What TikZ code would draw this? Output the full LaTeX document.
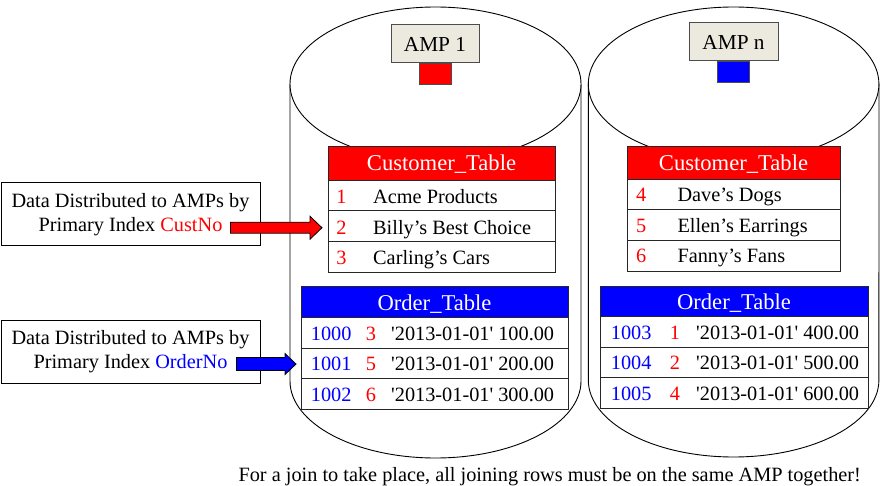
\documentclass[tikz,border=0pt]{standalone}
\usepackage{fontspec}
\setmainfont{Liberation Serif}
\usetikzlibrary{calc}
\definecolor{ampfill}{HTML}{ECE9DF}
\begin{document}
\begin{tikzpicture}[x=1pt,y=-1pt,
  cyl/.style={draw=black, line width=0.9pt},
  cell/.style={draw=black!85, line width=1pt, anchor=north west, inner sep=0pt, fill=white},
  redhead/.style={cell, fill=red},
  bluehead/.style={cell, fill=blue},
  hdtext/.style={anchor=base, inner sep=0pt, text=white, font=\fontsize{22.6}{27}\selectfont},
  txt/.style={anchor=base west, inner sep=0pt, font=\fontsize{20.3}{24}\selectfont},
  num/.style={anchor=base, inner sep=0pt, font=\fontsize{20.3}{24}\selectfont},
  ampbox/.style={draw=black!70, line width=1pt, fill=ampfill, inner sep=0pt, font=\fontsize{21.3}{25}\selectfont},
  sq/.style={draw=black!70, line width=0.8pt, anchor=north, inner sep=0pt, minimum width=32, minimum height=21},
  infobox/.style={draw=black, line width=1pt, fill=white, align=center, inner sep=0pt, minimum width=259, minimum height=63, font=\fontsize{20.3}{24.4}\selectfont},
  blockarrow/.style={draw=black, line width=0.8pt, line join=miter}
]
\useasboundingbox (0,0) rectangle (880,486);

% ---- cylinders ----
\draw[cyl, fill=white] (290,84) -- (290,381) arc[start angle=180, end angle=360, x radius=145.5pt, y radius=77pt] -- (581,84);
\draw[cyl, fill=white] (435.5,84) ellipse[x radius=145.5pt, y radius=77pt];
\draw[cyl, fill=white] (588.3,84) -- (588.3,380) arc[start angle=180, end angle=360, x radius=145.3pt, y radius=77pt] -- (879,84);
\draw[cyl, fill=white] (733.6,84) ellipse[x radius=145.3pt, y radius=77pt];

% ---- AMP boxes ----
\node[ampbox, minimum width=88, minimum height=38] (amp1) at (435,44) {AMP 1};
\node[sq, fill=red] (ps1) at (amp1.south) {};
\node[ampbox, minimum width=89, minimum height=38] (ampn) at (733.5,42) {AMP n};
\node[sq, fill=blue] (psn) at (ampn.south) {};

% ---- Customer table AMP 1 ----
\node[redhead, minimum width=227, minimum height=34] (c1h) at (328,146) {};
\node[hdtext] (c1ht) at (441.5,170.5) {Customer\_Table};
\node[cell, minimum width=227, minimum height=30.5] (c1r1) at (328,180) {};
\node[cell, minimum width=227, minimum height=30.5] (c1r2) at (328,210.5) {};
\node[cell, minimum width=227, minimum height=30.5] (c1r3) at (328,241) {};
\node[num, text=red] (c1n1) at (341.5,203.8) {1};
\node[txt] (c1t1) at (373,203.8) {Acme Products};
\node[num, text=red] (c1n2) at (341.5,234.3) {2};
\node[txt] (c1t2) at (373,234.3) {Billy’s Best Choice};
\node[num, text=red] (c1n3) at (341.5,264.5) {3};
\node[txt] (c1t3) at (373,264.5) {Carling’s Cars};

% ---- Customer table AMP n ----
\node[redhead, minimum width=213, minimum height=33] (c2h) at (627,146) {};
\node[hdtext] (c2ht) at (733.5,170.6) {Customer\_Table};
\node[cell, minimum width=213, minimum height=30.5] (c2r1) at (627,179) {};
\node[cell, minimum width=213, minimum height=30.5] (c2r2) at (627,209.5) {};
\node[cell, minimum width=213, minimum height=30.5] (c2r3) at (627,240) {};
\node[num, text=red] (c2n1) at (641.3,202) {4};
\node[txt] (c2t1) at (677.3,202) {Dave’s Dogs};
\node[num, text=red] (c2n2) at (641.3,232.5) {5};
\node[txt] (c2t2) at (677.3,232.5) {Ellen’s Earrings};
\node[num, text=red] (c2n3) at (641.3,262.6) {6};
\node[txt] (c2t3) at (677.3,262.6) {Fanny’s Fans};

% ---- Order table AMP 1 ----
\node[bluehead, minimum width=267, minimum height=31] (o1h) at (301,286) {};
\node[hdtext] (o1ht) at (434.5,310) {Order\_Table};
\node[cell, minimum width=267, minimum height=30.7] (o1r1) at (301,317) {};
\node[cell, minimum width=267, minimum height=30.7] (o1r2) at (301,347.7) {};
\node[cell, minimum width=267, minimum height=30.7] (o1r3) at (301,378.4) {};
\node[txt, text=blue] (o1a1) at (310.7,340) {1000};
\node[num, text=red] (o1b1) at (371,340) {3};
\node[txt] (o1c1) at (391,340) {\textquotesingle 2013-01-01\textquotesingle\ 100.00};
\node[txt, text=blue] (o1a2) at (310.7,370.7) {1001};
\node[num, text=red] (o1b2) at (371,370.7) {5};
\node[txt] (o1c2) at (391,370.7) {\textquotesingle 2013-01-01\textquotesingle\ 200.00};
\node[txt, text=blue] (o1a3) at (310.7,401.3) {1002};
\node[num, text=red] (o1b3) at (371,401.3) {6};
\node[txt] (o1c3) at (391,401.3) {\textquotesingle 2013-01-01\textquotesingle\ 300.00};

% ---- Order table AMP n ----
\node[bluehead, minimum width=268, minimum height=30] (o2h) at (600,286) {};
\node[hdtext] (o2ht) at (734,309.3) {Order\_Table};
\node[cell, minimum width=268, minimum height=30.7] (o2r1) at (600,316) {};
\node[cell, minimum width=268, minimum height=30.7] (o2r2) at (600,346.7) {};
\node[cell, minimum width=268, minimum height=30.7] (o2r3) at (600,377.4) {};
\node[txt, text=blue] (o2a1) at (610.7,339) {1003};
\node[num, text=red] (o2b1) at (675,339) {1};
\node[txt] (o2c1) at (696,339) {\textquotesingle 2013-01-01\textquotesingle\ 400.00};
\node[txt, text=blue] (o2a2) at (610.7,369.7) {1004};
\node[num, text=red] (o2b2) at (675,369.7) {2};
\node[txt] (o2c2) at (696,369.7) {\textquotesingle 2013-01-01\textquotesingle\ 500.00};
\node[txt, text=blue] (o2a3) at (610.7,400.3) {1005};
\node[num, text=red] (o2b3) at (675,400.3) {4};
\node[txt] (o2c3) at (696,400.3) {\textquotesingle 2013-01-01\textquotesingle\ 600.00};

% ---- left info boxes ----
\node[infobox] (lb1) at (130.5,214.5) {Data Distributed to AMPs by\\Primary Index \textcolor{red}{CustNo}};
\node[infobox] (lb2) at (130.5,351.5) {Data Distributed to AMPs by\\Primary Index \textcolor{blue}{OrderNo}};

% ---- block arrows ----
\coordinate (rtip) at ($(c1r2.west)+(-6,1.5)$);
\coordinate (rtail) at ($(lb1.east |- rtip)+(-30,0)$);
\draw[blockarrow, fill=red] ($(rtail)+(0,-5.5)$) -- ($(rtip)+(-12,-5.5)$) -- ($(rtip)+(-12,-11.5)$) -- (rtip)
  -- ($(rtip)+(-12,11.5)$) -- ($(rtip)+(-12,5.5)$) -- ($(rtail)+(0,5.5)$) -- cycle;
\coordinate (btip) at ($(o1r2.west)+(-5,0.5)$);
\coordinate (btail) at ($(lb2.east |- btip)+(-24,0)$);
\draw[blockarrow, fill=blue] ($(btail)+(0,-6.5)$) -- ($(btip)+(-11,-6.5)$) -- ($(btip)+(-11,-10.5)$) -- (btip)
  -- ($(btip)+(-11,10.5)$) -- ($(btip)+(-11,6.5)$) -- ($(btail)+(0,6.5)$) -- cycle;

% ---- bottom note ----
\node[txt] (note) at (238.3,481) {For a join to take place, all joining rows must be on the same AMP together!};
\end{tikzpicture}
\end{document}
